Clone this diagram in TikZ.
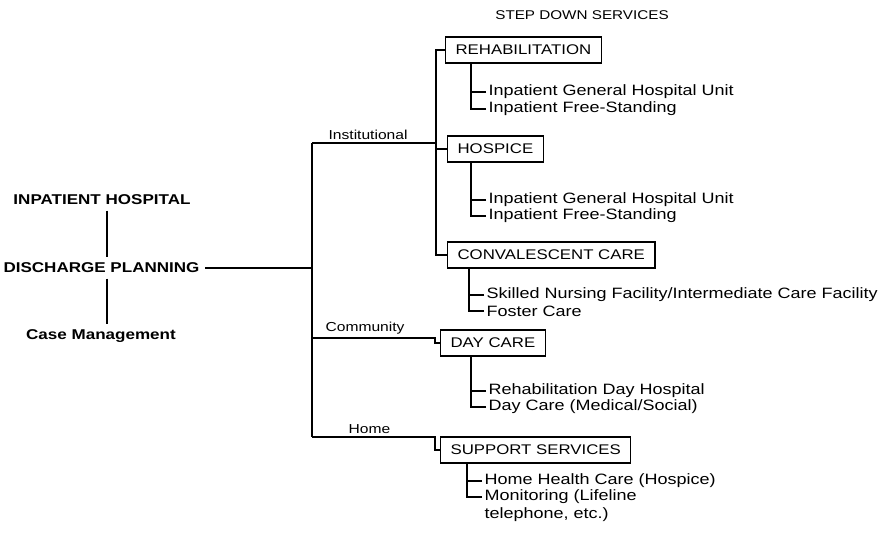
\documentclass[tikz,border=0pt]{standalone}
\usepackage{fontspec}
\setmainfont[FakeStretch=1.2]{Liberation Sans}
\begin{document}
\begin{tikzpicture}[x=1pt, y=-1pt, line width=1.2pt]
	\tikzstyle{stage}   = [font=\fontsize{14.2}{17}\selectfont\bfseries, inner sep=5pt]
	\tikzstyle{unit}    = [draw, rectangle, anchor=west, inner xsep=10pt, minimum height=26pt, font=\fontsize{14}{17}\selectfont]
	\tikzstyle{subitem} = [anchor=west, inner xsep=2pt, inner ysep=0pt, font=\fontsize{15}{18}\selectfont]
	\tikzstyle{branch}  = [anchor=south west, inner sep=0pt, font=\fontsize{13}{15}\selectfont]

	\useasboundingbox (0,0) rectangle (886,534);

	% left column
	\node[stage] (inp) at (102,200) {INPATIENT HOSPITAL};
	\node[stage] (dis) at (101.5,268) {DISCHARGE PLANNING};
	\node[stage] (cas) at (101,336) {Case Management};
	\draw ([xshift=5.5]dis.north |- inp.south) -- ([xshift=5.5]dis.north);
	\draw ([xshift=5.5]dis.south) -- ([xshift=5.5]dis.south |- cas.north);

	% trunk
	\coordinate (top) at (312,143);
	\coordinate (com) at (312,338);
	\coordinate (bot) at (312,437);
	\coordinate (inst) at (436,50);
	\draw (top) -- (bot);
	\draw (dis.east) -- (dis.east -| top);

	\node at (582,15) {\fontsize{12.7}{15}\selectfont STEP DOWN SERVICES};

	% care units
	\node[unit] (rehab) at (445,50)  {REHABILITATION};
	\node[unit] (hosp)  at (447,149) {HOSPICE};
	\node[unit] (conv)  at (447,255) {CONVALESCENT CARE};
	\node[unit] (day)   at (440,343) {DAY CARE};
	\node[unit] (supp)  at (440,450) {SUPPORT SERVICES};

	\node[branch] (lins) at (328,140) {Institutional};
	\node[branch] (lcom) at (325,335) {Community};
	\node[branch] (lhom) at (348,434) {Home};

	\draw (top) -- (top -| inst);
	\draw (rehab.west) -- (rehab.west -| inst) -- (conv.west -| inst) -- (conv.west);
	\draw (hosp.west) -- (hosp.west -| inst);
	\draw (com) -- ++(123,0) |- (day.west);
	\draw (bot) -- ++(123,0) |- (supp.west);

	% services under each unit
	\node[subitem] (ri1) at (486,92)  {Inpatient General Hospital Unit};
	\node[subitem] (ri2) at (486,109) {Inpatient Free-Standing};
	\node[subitem] (hi1) at (486,200) {Inpatient General Hospital Unit};
	\node[subitem] (hi2) at (486,216) {Inpatient Free-Standing};
	\node[subitem] (ci1) at (484,295) {Skilled Nursing Facility/Intermediate Care Facility};
	\node[subitem] (ci2) at (484,311) {Foster Care};
	\node[subitem] (di1) at (486,391) {Rehabilitation Day Hospital};
	\node[subitem] (di2) at (486,407) {Day Care (Medical/Social)};
	\node[subitem] (si1) at (482,481) {Home Health Care (Hospice)};
	\node[subitem] (si2) at (482,497) {Monitoring (Lifeline};
	\node[subitem] (si3) at (482,515) {telephone, etc.)};

	\foreach \grp/\first/\last in {rehab/ri1/ri2, hosp/hi1/hi2, conv/ci1/ci2, day/di1/di2, supp/si1/si2}
	{
		\draw (\last.west) -- ++(-15,0) coordinate (elbow) -- (elbow |- \grp.south);
		\draw (\first.west) -- (\first.west -| elbow);
	}
\end{tikzpicture}
\end{document}
